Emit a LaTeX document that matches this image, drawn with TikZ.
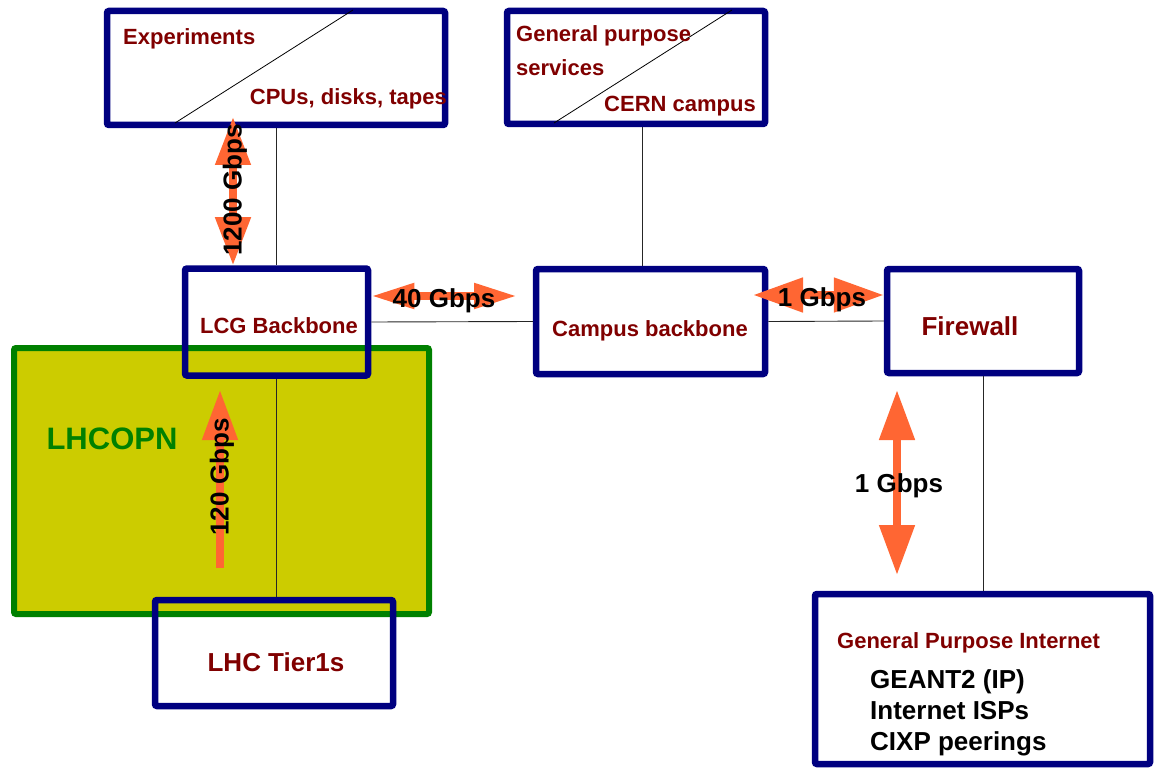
\documentclass[tikz,border=0pt]{standalone}
\usepackage{fontspec}
\setmainfont{Liberation Sans}
\usepackage{tikz}
\usetikzlibrary{arrows.meta}
\definecolor{navy}{HTML}{000080}
\definecolor{dkred}{HTML}{800000}
\definecolor{opngreen}{HTML}{008000}
\definecolor{opnfill}{HTML}{CCCC00}
\definecolor{ratecol}{HTML}{FF6633}

\begin{document}
\begin{tikzpicture}[x=1pt, y=-1pt, every node/.style={inner sep=0pt, font=\bfseries\fontsize{22}{34}\selectfont},
	box/.style={draw=navy, line width=6.5pt, rounded corners=2pt},
	lbl/.style={text=dkred},
	big/.style={font=\bfseries\fontsize{26}{31}\selectfont},
	link/.style={black!85, line width=0.9pt},
	dbl/.style={ratecol, line width=8pt, {Triangle[length=#1,width=34pt]}-{Triangle[length=#1,width=34pt]}}]
	\useasboundingbox (0,0) rectangle (1154,770);
	% LHCOPN area
	\node[draw=opngreen, fill=opnfill, line width=6pt, rounded corners=2pt, minimum width=415pt, minimum height=266pt] (opn) at (221.5,481) {};
	\node[text=opngreen, anchor=base, font=\bfseries\fontsize{31}{36}\selectfont] (tOpn) at (112,449) {LHCOPN};
	% boxes
	\node[box, minimum width=338pt, minimum height=114pt] (exp) at (276,68) {};
	\node[box, minimum width=258pt, minimum height=113pt] (gps) at (636,67.5) {};
	\node[box, minimum width=183pt, minimum height=107pt] (lcg) at (276.5,322) {};
	\node[box, minimum width=229pt, minimum height=105pt] (campus) at (650.5,321.5) {};
	\node[box, minimum width=192pt, minimum height=104pt] (fw) at (983,321) {};
	\node[box, minimum width=238pt, minimum height=106pt] (tier) at (274,653) {};
	\node[box, minimum width=335pt, minimum height=170pt] (gpi) at (982.5,679) {};
	\draw[black, line width=0.8pt] (175,123) -- (353,10);
	\draw[black, line width=0.8pt] (554,123) -- (732,10);
	% links
	\draw[link] (exp.south -| lcg.north) -- (lcg.north);
	\draw[link] ([xshift=-8pt]campus.north) -- ([xshift=-8pt]campus.north |- gps.south);
	\foreach \a/\b in {lcg.east/campus.west, campus.east/fw.west} {\draw[link] (\a) -- (\b);}
	\draw[link] (lcg.south) -- (lcg.south |- tier.north);
	\draw[link] (fw.south) -- (fw.south |- gpi.north);
	% labels
	\node[lbl, anchor=base west] (tExp) at (123,45) {Experiments};
	\node[lbl, anchor=base east] (tCpu) at (447,105) {CPUs, disks, tapes};
	\node[lbl, anchor=base west, align=left] (tGps) at (516,76) {General purpose\\services};
	\node[lbl, anchor=base west] (tCern) at (604,112) {CERN campus};
	\node[lbl, anchor=base] (tLcg) at (279,333) {LCG Backbone};
	\node[lbl, anchor=base] (tCampus) at (650,336) {Campus backbone};
	\node[lbl, big, anchor=base] (tFw) at (970,335) {Firewall};
	\node[lbl, big, anchor=base] (tTier) at (276,671) {LHC Tier1s};
	\node[lbl, anchor=base west] (tGpi) at (837,648) {General Purpose Internet};
	\node[big, anchor=base west, align=left] (tIsp) at (870,750) {GEANT2 (IP)\\Internet ISPs\\CIXP peerings};
	% rates
	\draw[dbl=48pt] (233,117) -- (lcg.north -| 233,0);
	\node[big, rotate=90] (r1200) at (235,190) {1200 Gbps};
	\draw[dbl=43pt, {Triangle[length=43pt,width=24pt]}-{Triangle[length=43pt,width=24pt]}] (lcg.east |- 0,296) -- (517,296);
	\node[big, anchor=base] (r40) at (444,307) {40 Gbps};
	\draw[dbl=50pt, {Triangle[length=50pt,width=33pt]}-{Triangle[length=50pt,width=33pt]}] (753,295) -- (fw.west |- 0,295);
	\node[big, anchor=base] (r1a) at (822,306) {1 Gbps};
	\draw[dbl=50pt] (897,390) -- (897,575);
	\node[big, anchor=base] (r1b) at (899,492) {1 Gbps};
	\draw[ratecol, line width=8pt, -{Triangle[length=50pt,width=34pt]}] (220,568) -- (220,390);
	\node[big, rotate=90] (r120) at (222,477) {120 Gbps};
\end{tikzpicture}
\end{document}
